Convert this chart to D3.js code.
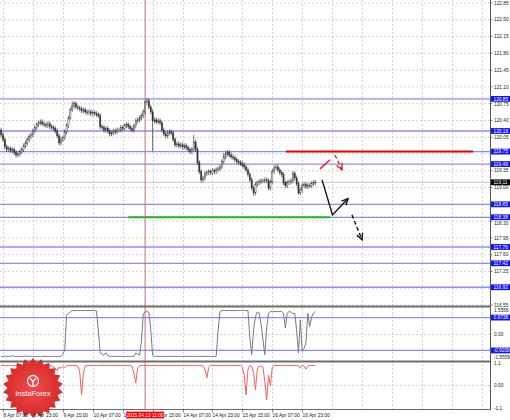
<!DOCTYPE html>
<html><head><meta charset="utf-8">
<script src="https://cdn.jsdelivr.net/npm/d3@7"></script>
<style>
body{margin:0;background:#fff;overflow:hidden}
svg{display:block}
text{font-family:"Liberation Sans",Arial,sans-serif}
</style></head>
<body><svg id="c" width="510" height="420"></svg>
<script>
// ---------- DATA ----------
const timeLabels = [
  {i:1,t:"8 Apr 07:00"},{i:17,t:"8 Apr 23:00"},{i:33,t:"9 Apr 15:00"},{i:49,t:"10 Apr 07:00"},
  {i:65,t:"10 Apr 23:00"},{i:81,t:"13 Apr 15:00"},{i:97,t:"14 Apr 07:00"},{i:113,t:"14 Apr 23:00"},
  {i:129,t:"15 Apr 15:00"},{i:145,t:"16 Apr 07:00"},{i:161,t:"16 Apr 23:00"}
];
const gridBars = [1,17,33,49,65,81,97,113,129,145,161,177,193,209,225,241,257];
const priceTicks = ["122.85","122.50","122.15","121.80","121.45","121.10","120.75","120.40","120.05",
  "119.70","119.35","119.00","118.65","118.30","117.95","117.60","117.25","116.90","116.55"];
const levels = [120.85,120.18,119.75,119.49,118.65,118.38,117.76,117.42,116.92];
const lastPrice = 119.11;
const crossBar = 77;
const crossLabel = "2015.04.13 11:00";

const closes = [
120.10,120.00,119.85,119.79,119.81,119.77,119.79,119.73,119.68,119.70,
119.75,119.79,119.87,119.93,120.00,120.06,120.10,120.18,120.25,120.31,
120.35,120.37,120.33,120.31,120.29,120.33,120.27,120.25,120.23,120.18,
120.08,119.93,120.00,120.04,120.16,120.29,120.45,120.62,120.70,120.75,
120.68,120.66,120.64,120.60,120.62,120.58,120.56,120.58,120.54,120.56,
120.54,120.52,120.50,120.27,120.25,120.20,120.23,120.18,120.12,120.14,
120.18,120.16,120.20,120.20,120.25,120.23,120.29,120.31,120.27,120.23,
120.20,120.29,120.39,120.41,120.45,120.50,120.58,120.77,120.81,120.68,
120.58,120.39,120.41,120.37,120.39,120.35,120.20,120.12,120.08,120.14,
120.16,120.14,120.00,119.89,119.91,119.87,119.89,119.85,119.87,119.83,
119.79,119.75,119.79,119.95,119.79,119.52,119.33,119.16,119.20,119.29,
119.31,119.33,119.31,119.35,119.33,119.37,119.39,119.43,119.54,119.64,
119.70,119.73,119.68,119.64,119.62,119.58,119.54,119.52,119.50,119.47,
119.43,119.37,119.27,119.16,118.99,118.89,119.06,119.10,119.12,119.14,
119.14,119.16,119.14,118.99,119.12,119.33,119.41,119.43,119.37,119.31,
119.27,119.10,119.04,119.10,119.12,119.14,119.29,119.20,119.08,118.89,
118.95,119.04,119.06,119.02,119.04,119.04,119.08,119.10,119.11];
const firstOpen = 120.20;
const highSpikes = [[32,120.06],[38,120.80],[78,120.87],[103,120.10],[119,119.72]];
const lowSpikes  = [[31,119.88],[81,119.75],[135,118.83],[159,118.85],[143,118.94]];

const osc = [
-1.26,-1.26,-1.24,-1.26,-1.26,-1.26,-1.22,-1.26,-1.26,-1.26,
-1.26,-1.26,-1.26,-1.24,-1.26,-1.26,-1.26,-1.26,-1.26,-1.26,
-1.26,-1.26,-1.26,-1.26,-1.26,-1.26,-1.26,-1.26,-1.26,-1.26,
-1.26,-1.26,-1.26,-1.15,-0.90,1.10,1.23,1.30,1.38,1.38,
1.38,1.38,1.38,1.38,1.38,1.38,1.38,1.38,1.38,1.38,
1.38,1.35,0.20,-1.07,-1.12,-1.20,-1.05,-1.22,-1.26,-1.26,
-1.26,-1.26,-1.26,-1.26,-1.26,-1.26,-1.26,-1.26,-1.26,-1.26,
-1.26,-1.26,-1.07,-1.12,-1.20,-0.40,1.20,1.30,1.32,1.28,
0.30,-1.20,-1.26,-1.26,-1.26,-1.26,-1.26,-1.26,-1.26,-1.26,
-1.26,-1.26,-1.26,-1.26,-1.26,-1.26,-1.26,-1.26,-1.26,-1.26,
-1.26,-1.26,-1.26,-1.26,-1.26,-1.26,-1.26,-1.26,-1.26,-1.26,
-1.26,-1.26,-1.26,-1.26,-1.26,-1.26,0.20,1.30,1.38,1.38,
1.38,1.38,1.38,1.38,1.38,1.38,1.38,1.38,1.38,1.38,
1.38,1.38,1.38,-0.20,-1.16,0.30,1.03,1.30,1.23,0.60,
-0.30,-1.16,0.40,1.23,1.32,1.32,1.32,1.32,1.32,1.32,
1.32,1.23,0.37,1.23,1.32,1.30,1.20,1.23,0.27,-1.07,
0.84,-0.98,-0.80,-0.49,1.23,0.46,1.00,1.23,1.32];
const oscLevels = [0.9738,-0.9200];
const oscTicks = ["1.5556","0.00","-1.5556"];

const sig = [
0.98,0.98,0.97,0.98,0.98,0.98,0.97,0.97,0.98,0.98,
0.70,-0.30,0.75,0.98,0.98,0.60,-0.20,0.90,0.98,0.98,
0.98,0.97,0.98,0.98,0.97,0.98,0.98,0.96,0.90,0.85,
0.72,0.90,0.85,0.92,0.88,0.96,0.98,0.98,0.98,0.98,
0.98,0.95,0.70,-0.45,0.60,0.96,0.98,0.98,0.98,0.98,
0.98,0.97,0.98,0.98,0.98,0.98,0.98,0.98,0.98,0.98,
0.98,0.98,0.98,0.98,0.98,0.98,0.98,0.98,0.98,0.97,
0.95,0.60,0.13,0.85,0.97,0.98,0.98,0.98,0.98,0.98,
0.98,0.98,0.98,0.98,0.98,0.98,0.98,0.98,0.98,0.98,
0.98,0.98,0.98,0.98,0.98,0.98,0.98,0.98,0.98,0.98,
0.98,0.98,0.97,0.98,0.98,0.98,0.97,0.98,0.95,0.80,
0.38,0.88,0.97,0.98,0.98,0.98,0.98,0.98,0.98,0.98,
0.98,0.98,0.98,0.98,0.98,0.98,0.98,0.98,0.98,0.90,
0.50,-0.45,0.80,0.97,0.95,0.60,-0.20,0.80,0.95,0.95,
0.90,0.20,-0.70,0.50,0.00,0.90,0.97,0.98,0.98,0.98,
0.98,0.98,0.98,0.97,0.98,0.98,0.98,0.98,0.98,0.97,
0.85,0.98,0.95,0.80,0.95,0.98,0.98,0.98,0.98];
const sigTicks = ["1.1","0.00","-1.1"];

// drawn objects (bar index, price)
const redLine   = {from:152.3, to:252.4, price:119.75};
const greenLine = {from:67.9,  to:175.9, price:118.38};
const redSolid   = [[170.5,119.39],[175.9,119.58]];
const redDashed  = [[178.5,119.68],[182.3,119.37]];
const blackSolid = [[171.6,119.16],[177.2,118.43],[185.5,118.77]];
const blackDashed= [[187.6,118.43],[193.0,117.91]];

// ---------- SCALES ----------
const W = 490;
const svg = d3.select("#c");
const x = d3.scaleLinear().domain([0,168]).range([1.13,315.3]);
const y = d3.scaleLinear().domain([116.55,122.85]).range([305,3]);
const y2 = d3.scaleLinear().domain([-1.5556,1.5556]).range([361.5,307.5]);
const y3 = d3.scaleLinear().domain([-1.15,1.15]).range([409,362]);

const gridC = "#c8c8c8", lvlC = "#8c8cff";

// ---------- GRID ----------
const g = svg.append("g");
g.selectAll("line.v").data(gridBars).join("line")
  .attr("x1",d=>Math.round(x(d))+0.5).attr("x2",d=>Math.round(x(d))+0.5)
  .attr("y1",0).attr("y2",409).attr("stroke",gridC).attr("stroke-width",0.8).attr("stroke-dasharray","2,2");
g.selectAll("line.h").data(priceTicks).join("line")
  .attr("x1",0).attr("x2",W).attr("y1",d=>y(+d)).attr("y2",d=>y(+d))
  .attr("stroke",gridC).attr("stroke-width",0.8).attr("stroke-dasharray","2,2");
[y2(0), y3(0)].forEach(v=>g.append("line").attr("x1",0).attr("x2",W).attr("y1",v).attr("y2",v)
  .attr("stroke",gridC).attr("stroke-width",0.8).attr("stroke-dasharray","2,2"));

// bid line
g.append("line").attr("x1",0).attr("x2",W).attr("y1",y(lastPrice)).attr("y2",y(lastPrice))
  .attr("stroke","#c8c8c8").attr("stroke-width",1);

// levels
g.selectAll("line.lvl").data(levels).join("line")
  .attr("x1",0).attr("x2",W).attr("y1",d=>y(d)).attr("y2",d=>y(d))
  .attr("stroke",lvlC).attr("stroke-width",1.3);
g.selectAll("line.olvl").data(oscLevels).join("line")
  .attr("x1",0).attr("x2",W).attr("y1",d=>y2(d)).attr("y2",d=>y2(d))
  .attr("stroke",lvlC).attr("stroke-width",1.3);

// red & green horizontal
g.append("line").attr("x1",x(redLine.from)).attr("x2",x(redLine.to))
  .attr("y1",y(redLine.price)).attr("y2",y(redLine.price)).attr("stroke","#ee0000").attr("stroke-width",2);
g.append("line").attr("x1",x(greenLine.from)).attr("x2",x(greenLine.to))
  .attr("y1",y(greenLine.price)).attr("y2",y(greenLine.price)).attr("stroke","#22b422").attr("stroke-width",2);

// crosshair vertical
g.append("line").attr("x1",x(crossBar)).attr("x2",x(crossBar)).attr("y1",0).attr("y2",409)
  .attr("stroke","#c86060").attr("stroke-width",0.9);

// ---------- CANDLES ----------
const hs = new Map(highSpikes), ls = new Map(lowSpikes);
const candles = closes.map((c,i)=>{
  const o = i===0 ? firstOpen : closes[i-1];
  const hi = hs.has(i) ? hs.get(i) : Math.max(o,c)+0.05;
  const lo = ls.has(i) ? ls.get(i) : Math.min(o,c)-0.05;
  return {i,o,c,hi,lo};
});
const cg = svg.append("g");
cg.selectAll("line").data(candles).join("line")
  .attr("x1",d=>x(d.i)).attr("x2",d=>x(d.i)).attr("y1",d=>y(d.hi)).attr("y2",d=>y(d.lo))
  .attr("stroke","#333").attr("stroke-width",0.7);
cg.selectAll("rect").data(candles).join("rect")
  .attr("x",d=>x(d.i)-0.6).attr("width",1.2)
  .attr("y",d=>y(Math.max(d.o,d.c))).attr("height",d=>Math.max(0.7,Math.abs(y(d.o)-y(d.c))))
  .attr("fill",d=>d.c>=d.o?"#fff":"#333").attr("stroke","#333").attr("stroke-width",0.45);

// ---------- ARROWS ----------
function head(pts,color){
  const a=pts[pts.length-2], b=pts[pts.length-1];
  const p1=[x(a[0]),y(a[1])], p2=[x(b[0]),y(b[1])];
  const ang=Math.atan2(p2[1]-p1[1],p2[0]-p1[0]), L=7, sp=0.45;
  const l=[p2[0]-L*Math.cos(ang-sp),p2[1]-L*Math.sin(ang-sp)];
  const r=[p2[0]-L*Math.cos(ang+sp),p2[1]-L*Math.sin(ang+sp)];
  svg.append("path").attr("d",`M${l}L${p2}L${r}`).attr("fill","none").attr("stroke",color).attr("stroke-width",1.4);
}
const line = d3.line().x(d=>x(d[0])).y(d=>y(d[1]));
svg.append("path").attr("d",line(redSolid)).attr("fill","none").attr("stroke","#ee2020").attr("stroke-width",1.4);
svg.append("path").attr("d",line(redDashed)).attr("fill","none").attr("stroke","#ee2020").attr("stroke-width",1.4).attr("stroke-dasharray","4,2.5");
head(redDashed,"#ee2020");
svg.append("path").attr("d",line(blackSolid)).attr("fill","none").attr("stroke","#111").attr("stroke-width",1.4);
head(blackSolid,"#111");
svg.append("path").attr("d",line(blackDashed)).attr("fill","none").attr("stroke","#111").attr("stroke-width",1.4).attr("stroke-dasharray","4,2.5");
head(blackDashed,"#111");

// ---------- INDICATORS ----------
svg.append("path").datum(osc).attr("d",d3.line().x((d,i)=>x(i)).y(d=>y2(d)))
  .attr("fill","none").attr("stroke","#7a7a7a").attr("stroke-width",1);
svg.append("path").datum(sig).attr("d",d3.line().x((d,i)=>x(i)).y(d=>y3(d)))
  .attr("fill","none").attr("stroke","#f06060").attr("stroke-width",1);

// ---------- FRAMES ----------
svg.append("line").attr("x1",0).attr("x2",W).attr("y1",306.5).attr("y2",306.5).attr("stroke","#6e6e6e").attr("stroke-width",2);
svg.append("line").attr("x1",0).attr("x2",W).attr("y1",361.5).attr("y2",361.5).attr("stroke","#6e6e6e").attr("stroke-width",2);
svg.append("line").attr("x1",0).attr("x2",W+0.5).attr("y1",409.5).attr("y2",409.5).attr("stroke","#6e6e6e").attr("stroke-width",1);
svg.append("line").attr("x1",W+0.5).attr("x2",W+0.5).attr("y1",0).attr("y2",410).attr("stroke","#555").attr("stroke-width",1);

// ---------- LOGO ----------
const lg = svg.append("g").attr("transform","translate(33,388)");
const defs = svg.append("defs");
const rg = defs.append("radialGradient").attr("id","lgG");
rg.append("stop").attr("offset","0%").attr("stop-color","#f24a4a");
rg.append("stop").attr("offset","100%").attr("stop-color","#d42a2a");
const N=22, R=30, r=25.5;
const star = d3.range(2*N).map(k=>{const a=k*Math.PI/N-Math.PI/2, rr=k%2?r:R; return [rr*Math.cos(a), rr*Math.sin(a)];});
lg.append("path").attr("d","M"+star.join("L")+"Z").attr("fill","url(#lgG)");
lg.append("circle").attr("cx",0).attr("cy",-7).attr("r",5.5).attr("fill","none").attr("stroke","#fff").attr("stroke-width",1.3);
lg.append("path").attr("d","M-3,-10 L0,-6.5 L3,-10 M0,-6.5 L0,-2").attr("fill","none").attr("stroke","#fff").attr("stroke-width",1.3);
lg.append("text").attr("x",0).attr("y",8).attr("text-anchor","middle").attr("fill","#fff")
  .attr("font-size",7.5).text("InstaForex");

// ---------- AXIS LABELS ----------
const ax = svg.append("g").attr("font-size",4.8).attr("fill","#222");
const levelY = levels.map(v=>y(v));
priceTicks.forEach(t=>{
  let py=y(+t);
  if (levelY.some(ly=>Math.abs(ly-py)<3.3)) return;
  ax.append("line").attr("x1",W).attr("x2",W+2.5).attr("y1",py).attr("y2",py).attr("stroke","#555").attr("stroke-width",0.7);
  const near = levelY.find(ly=>Math.abs(ly-py)<6);
  const ty = near===undefined ? py : (py>near ? Math.max(py, near+5.8) : Math.min(py, near-5.8));
  ax.append("text").attr("x",W+4).attr("y",ty).attr("dy","0.35em").text(t);
});
function boxLabel(py,txt,fill){
  ax.append("rect").attr("x",W+1).attr("y",py-2.9).attr("width",19).attr("height",5.8).attr("fill",fill);
  ax.append("text").attr("x",W+3.5).attr("y",py).attr("dy","0.35em").attr("fill","#fff").text(txt);
}
levels.forEach(v=>boxLabel(y(v),v.toFixed(2),"#1414ee"));
boxLabel(y(lastPrice),lastPrice.toFixed(2),"#000");

// oscillator labels
ax.append("text").attr("x",W+4).attr("y",y2(1.5556)+2.5).attr("dy","0.35em").text(oscTicks[0]);
ax.append("text").attr("x",W+4).attr("y",y2(0)).attr("dy","0.35em").text(oscTicks[1]);
ax.append("text").attr("x",W+4).attr("y",y2(-1.5556)-4.3).attr("dy","0.35em").text(oscTicks[2]);
oscLevels.forEach(v=>boxLabel(y2(v),v.toFixed(4),"#1414ee"));
// signal labels
ax.append("text").attr("x",W+4).attr("y",y3(1.1)).attr("dy","0.35em").text(sigTicks[0]);
ax.append("text").attr("x",W+4).attr("y",y3(0)).attr("dy","0.35em").text(sigTicks[1]);
ax.append("text").attr("x",W+4).attr("y",y3(-1.1)).attr("dy","0.35em").text(sigTicks[2]);

// time labels
timeLabels.forEach(d=>{
  const px=Math.round(x(d.i))+0.5;
  ax.append("line").attr("x1",px).attr("x2",px).attr("y1",409.5).attr("y2",412.5).attr("stroke","#555").attr("stroke-width",0.7);
  ax.append("text").attr("x",px).attr("y",415).attr("dy","0.35em").text(d.t);
});
const cx = x(crossBar);
ax.append("rect").attr("x",cx-19).attr("y",411.6).attr("width",38).attr("height",6.8).attr("fill","#ff0000");
ax.append("text").attr("x",cx).attr("y",415).attr("dy","0.35em").attr("text-anchor","middle").attr("fill","#fff").text(crossLabel);
</script>
</body></html>
